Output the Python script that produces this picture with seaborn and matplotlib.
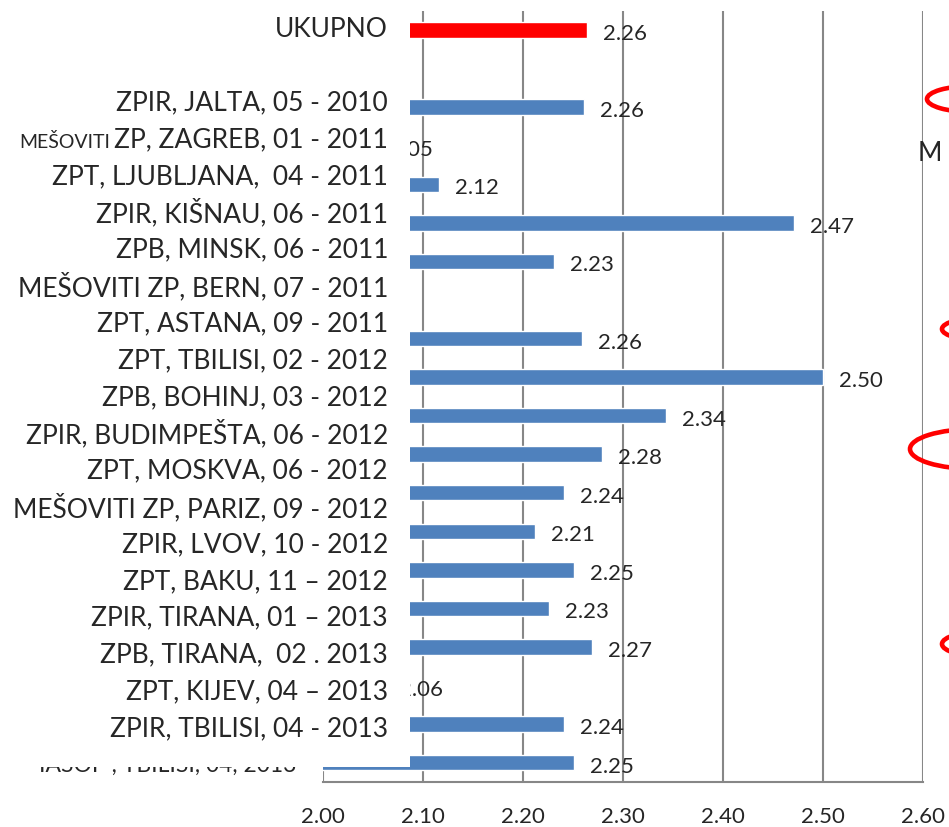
import numpy as np
import pandas as pd
import matplotlib
matplotlib.use("Agg")
import matplotlib.pyplot as plt
from matplotlib.patches import Rectangle, Ellipse
import seaborn as sns

# bar rows of the chart (row 1 is an empty spacer, BERN has no bar)
events = ["UKUPNO", " ",
          "ZPIR, JALTA, 05 - 2010", "MEŠOVITI ZP, ZAGREB, 01 - 2011",
          "ZPT, LJUBLJANA,  04 - 2011", "ZPIR, KIŠNAU, 06 - 2011",
          "ZPB, MINSK, 06 - 2011", "MEŠOVITI ZP, BERN, 07 - 2011",
          "ZPT, ASTANA, 09 - 2011", "ZPT, TBILISI, 02 - 2012",
          "ZPB, BOHINJ, 03 - 2012", "ZPIR, BUDIMPEŠTA, 06 - 2012",
          "ZPT, MOSKVA, 06 - 2012", "MEŠOVITI ZP, PARIZ, 09 - 2012",
          "ZPIR, LVOV, 10 - 2012", "ZPT, BAKU, 11 – 2012",
          "ZPIR, TIRANA, 01 – 2013", "ZPB, TIRANA,  02 . 2013",
          "ZPT, KIJEV, 04 – 2013", "ZPIR, TBILISI, 04 - 2013"]
values = [2.264, np.nan,
          2.261, 2.05, 2.116, 2.471, 2.231, np.nan, 2.259, 2.50,
          2.343, 2.279, 2.241, 2.212, 2.251, 2.226, 2.269, 2.06,
          2.241, 2.251]

# text labels of the overlay box (shifted against the bars in the original)
label_rows = ["UKUPNO", "",
              "ZPIR, JALTA, 05 - 2010", "ZP, ZAGREB, 01 - 2011",
              "ZPT, LJUBLJANA,  04 - 2011", "ZPIR, KIŠNAU, 06 - 2011",
              "ZPB, MINSK, 06 - 2011", "MEŠOVITI ZP, BERN, 07 - 2011",
              "ZPT, ASTANA, 09 - 2011", "ZPT, TBILISI, 02 - 2012",
              "ZPB, BOHINJ, 03 - 2012", "ZPIR, BUDIMPEŠTA, 06 - 2012",
              "ZPT, MOSKVA, 06 - 2012", "MEŠOVITI ZP, PARIZ, 09 - 2012",
              "ZPIR, LVOV, 10 - 2012", "ZPT, BAKU, 11 – 2012",
              "ZPIR, TIRANA, 01 – 2013", "ZPB, TIRANA,  02 . 2013",
              "ZPT, KIJEV, 04 – 2013", "ZPIR, TBILISI, 04 - 2013"]
hidden_label = "IASOP , TBILISI, 04, 2013"
xticks = [2.00, 2.10, 2.20, 2.30, 2.40, 2.50, 2.60]

BLUE = "#4F81BD"
RED = "#FF0000"
GRID = "#878787"

df = pd.DataFrame({"event": events, "value": values})
colors = {e: BLUE for e in events}
colors["UKUPNO"] = RED

sns.set_style("white")
plt.rcParams["font.family"] = ["Lato", "DejaVu Sans"]

W, H = 949, 828
fig = plt.figure(figsize=(W / 100, H / 100), dpi=100)


def fx(x):
    return x / W


def fy(y):
    return 1 - y / H


ax = fig.add_axes([fx(323), fy(783), fx(923) - fx(323), (783 - 11.7) / H])
sns.barplot(data=df, y="event", x="value", hue="event", order=events,
            palette=colors, legend=False, orient="h", width=0.4,
            saturation=1, ax=ax)

ax.set_xlim(2.0, 2.6)
ax.set_xticks(xticks)
ax.set_xticklabels([f"{t:.2f}" for t in xticks], fontsize=16)
ax.set_yticklabels([])
ax.set_xlabel("")
ax.set_ylabel("")
ax.tick_params(axis="y", length=0)
ax.tick_params(axis="x", direction="out", length=9, width=1.5, color=GRID, pad=8)
ax.grid(axis="x", color=GRID, linewidth=1.5)
ax.set_axisbelow(True)
for side in ["top", "right", "left"]:
    ax.spines[side].set_visible(False)
ax.spines["bottom"].set_color(GRID)
ax.spines["bottom"].set_linewidth(1.5)

for i, v in enumerate(values):
    if np.isnan(v):
        continue
    ax.annotate(f"{v:.2f}", xy=(v, i), xytext=(16, -3), textcoords="offset pixels",
                ha="left", va="center", fontsize=16, annotation_clip=False)

# white overlay box holding the row labels
fig.patches.append(Rectangle((0, fy(768)), fx(410), 1 - fy(768), transform=fig.transFigure,
                             facecolor="white", edgecolor="none", zorder=1))
fig.text(fx(296), fy(765), hidden_label, ha="right", va="center", fontsize=16.5, zorder=0.5)

label_y = np.linspace(29.4, 765.4, 21)
renderer = fig.canvas.get_renderer()
for lab, y in zip(label_rows, label_y):
    if not lab:
        continue
    t = fig.text(fx(388), fy(y), lab, ha="right", va="center", fontsize=19, zorder=2)
    if lab.startswith("ZP, ZAGREB"):
        bb = t.get_window_extent(renderer=renderer)
        fig.text(bb.x0 / W - fx(4), fy(y + 2), "MEŠOVITI", ha="right", va="center",
                 fontsize=14, zorder=2)

# red marks cut at the right edge
for cx, cy, w, h in [(972, 100, 90, 26), (987, 330, 90, 24),
                     (975, 450, 130, 40), (987, 645, 90, 26)]:
    fig.patches.append(Ellipse((fx(cx), fy(cy)), w / W, h / H, transform=fig.transFigure,
                               facecolor="none", edgecolor=RED, linewidth=3.3, zorder=2))
fig.text(fx(918), fy(154), "M", ha="left", va="center", fontsize=19, zorder=2)

fig.savefig("out.png", dpi=100)
